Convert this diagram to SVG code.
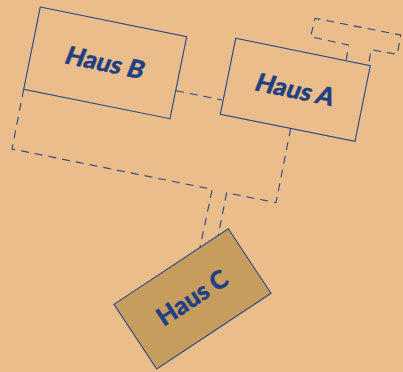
<svg xmlns="http://www.w3.org/2000/svg" width="403" height="372" viewBox="0 0 403 372">
<style>
.h{fill:none;stroke:#264a8a;stroke-width:1.1}
.d{fill:none;stroke:#264a8a;stroke-width:1.1;stroke-dasharray:8 6}
.t{font-family:"Lato","Liberation Sans",sans-serif;font-weight:900;font-size:25px;fill:#1f4083;stroke:#1f4083;stroke-width:.4;text-anchor:middle}
</style>
<rect width="403" height="372" fill="#ebbd8b"/>
<g id="connectors">
<path class="d" d="M23.7 89.3L12 149L212.3 189.3L200 247"/>
<path class="d" d="M290.7 128.3L276 202.7L226.7 192.7L218.3 235"/>
<path class="d" d="M176 90.7L222 100"/>
<path class="d" d="M346.3 60L348.3 45L310.7 36.7L315 18.3L400.7 35L397.3 54.3L371 49.7L368.7 64"/>
</g>
<g id="haus-b">
<path class="h" d="M40.3 7L186.7 36.7L170 118.7L23.7 89.3Z"/>
<text class="t" transform="translate(102 71) rotate(11.5) skewX(-10)">Haus B</text>
</g>
<g id="haus-a">
<path class="h" d="M235.7 38.3L370.3 65.7L355 141.3L220.3 114.3Z"/>
<text class="t" transform="translate(292 98) rotate(11.5) skewX(-10)">Haus A</text>
</g>
<g id="haus-c">
<path d="M228.3 228.7L271 293.3L156.7 369L114 304.3Z" fill="#c79d5e" stroke="#264a8a" stroke-width="1.1"/>
<text class="t" transform="translate(197 305) rotate(-33.5)">Haus C</text>
</g>
</svg>
